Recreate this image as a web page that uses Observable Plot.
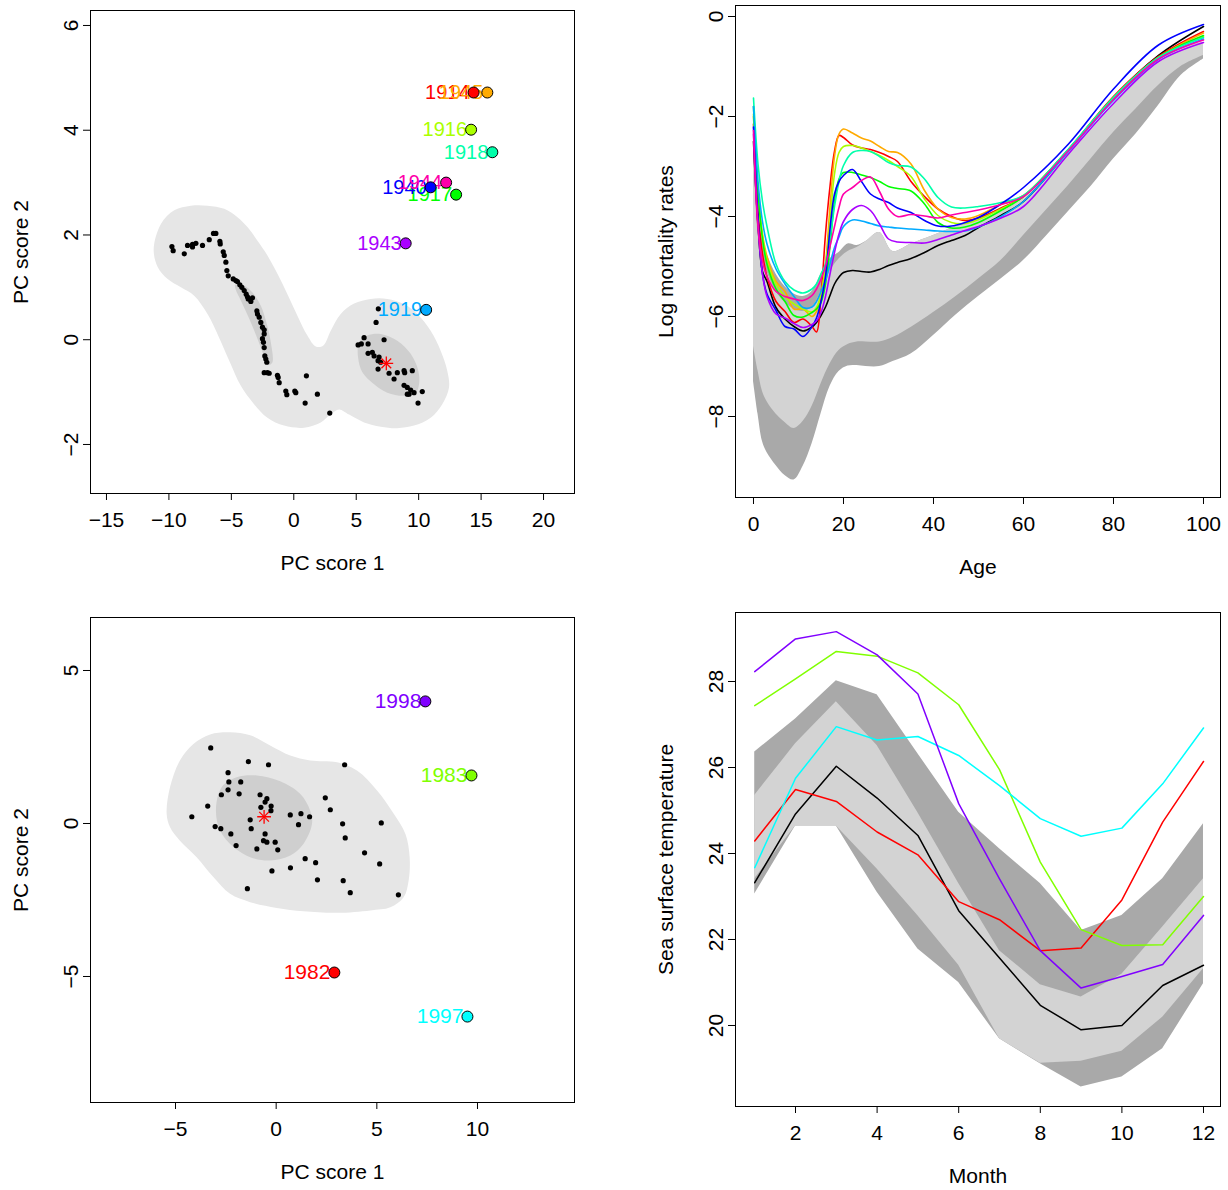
<!DOCTYPE html>
<html><head><meta charset="utf-8">
<script src="https://cdn.jsdelivr.net/npm/d3@7"></script>
<script src="https://cdn.jsdelivr.net/npm/@observablehq/plot@0.6"></script>
<style>
body{margin:0;background:#fff;}
#wrap{position:relative;width:1228px;height:1190px;overflow:hidden;}
#wrap svg{position:absolute;}
</style></head><body><div id="wrap"></div>
<script>
// ---------- Top-left: bivariate HDR boxplot of PC scores (mortality) ----------
const tlX = [-9.76,-9.66,-8.77,-8.51,-8.11,-8.11,-7.84,-7.31,-6.77,-6.43,-6.24,-5.92,-5.89,-5.65,-5.57,-5.44,-5.36,-5.25,-4.85,-4.64,-4.51,-4.32,-4.16,-3.97,-3.81,-3.71,-3.65,-3.31,-3.44,-2.96,-2.91,-2.77,-2.64,-2.51,-2.37,-2.37,-2.51,-2.43,-2.37,-2.32,-2.24,-2.16,-2.37,-2.11,-1.97,-1.31,-1.25,-1.17,-0.64,-0.56,0.08,0.16,1.01,1.89,0.91,2.88,6.77,6.59,5.63,5.41,5.15,5.95,7.23,5.95,6.29,6.43,6.83,6.75,6.96,6.75,7.63,8.03,8.29,8.83,8.88,9.49,8.83,9.09,9.36,9.23,9.09,9.63,10.29,9.95];
const tlY = [1.78,1.70,1.64,1.80,1.77,1.82,1.84,1.80,1.91,2.03,2.03,1.88,1.83,1.68,1.61,1.48,1.32,1.22,1.16,1.13,1.11,1.05,1.00,0.94,0.87,0.82,0.78,0.80,0.73,0.55,0.49,0.43,0.33,0.24,0.19,0.11,0.02,-0.05,-0.15,-0.31,-0.37,-0.43,-0.63,-0.63,-0.64,-0.68,-0.72,-0.82,-0.98,-1.05,-0.98,-1.01,-0.69,-1.04,-1.21,-1.40,0.59,0.33,0.04,-0.08,-0.10,-0.08,0.00,-0.26,-0.24,-0.31,-0.33,-0.40,-0.43,-0.56,-0.64,-0.75,-0.63,-0.59,-0.63,-0.59,-0.87,-0.91,-0.96,-1.04,-1.04,-1.01,-0.99,-1.21];
const tlMedian = [7.41, -0.45];
const tlOutYears = [1914,1945,1916,1917,1918,1919,1940,1943,1944];
const tlOutX = [14.4,15.5,14.2,13.0,15.9,10.6,10.96,8.96,12.2];
const tlOutY = [4.72,4.72,4.01,2.77,3.58,0.57,2.91,1.84,3.0];
const tlOutColors = ["#FF0000","#FFAA00","#AAFF00","#00FF00","#00FFAA","#00AAFF","#0000FF","#AA00FF","#FF00AA"];
const tlOuterX = [-11.22,-10.64,-9.57,-8.24,-6.91,-5.57,-4.51,-3.71,-2.91,-2.11,-1.31,-0.51,0.29,1.09,1.76,2.37,2.96,3.76,4.83,6.16,7.49,8.83,9.89,10.96,11.76,12.29,12.43,11.89,10.96,9.63,8.29,6.96,5.63,4.43,3.63,2.96,2.16,0.82,-0.78,-2.11,-3.18,-4.24,-5.17,-5.98,-6.91,-7.98,-9.04,-10.1,-10.9];
const tlOuterY = [1.73,2.21,2.47,2.56,2.56,2.50,2.34,2.15,1.89,1.61,1.26,0.87,0.46,0.08,-0.13,-0.11,0.17,0.49,0.69,0.78,0.78,0.68,0.49,0.17,-0.21,-0.59,-0.91,-1.23,-1.49,-1.64,-1.69,-1.66,-1.58,-1.43,-1.33,-1.42,-1.58,-1.68,-1.64,-1.49,-1.23,-0.88,-0.40,0.04,0.49,0.84,1.00,1.16,1.39];
const tlInnerAX = [-4.69,-3.97,-3.31,-2.64,-2.16,-1.84,-1.71,-1.97,-2.37,-2.91,-3.57,-4.24,-4.64];
const tlInnerAY = [1.05,1.03,0.90,0.65,0.30,-0.05,-0.43,-0.48,-0.31,0.02,0.40,0.75,0.95];
const tlInnerBX = [5.23,5.89,6.96,8.29,9.36,9.97,10.03,9.76,8.83,7.49,6.43,5.49,5.15];
const tlInnerBY = [-0.05,0.08,0.11,-0.02,-0.27,-0.59,-0.85,-1.01,-1.07,-1.01,-0.85,-0.62,-0.34];

// ---------- Top-right: functional HDR boxplot (log mortality by age) ----------
const bandAges = [0,1,2,3,5,7,9,11,13,15,17,19,21,23,25,28,31,35,40,45,50,55,60,65,70,75,80,85,90,95,100];
const trDarkLow  = [-7.3,-7.95,-8.5,-8.72,-8.98,-9.18,-9.27,-9.0,-8.55,-7.95,-7.4,-7.1,-6.99,-6.98,-7.0,-7.0,-6.9,-6.75,-6.38,-5.97,-5.6,-5.25,-4.88,-4.4,-3.9,-3.4,-2.85,-2.35,-1.78,-1.18,-0.85];
const trLightLow = [-6.6,-7.08,-7.5,-7.7,-7.95,-8.12,-8.24,-8.1,-7.8,-7.35,-6.95,-6.68,-6.56,-6.51,-6.51,-6.51,-6.42,-6.22,-5.92,-5.6,-5.25,-4.88,-4.38,-3.88,-3.38,-2.85,-2.32,-1.85,-1.38,-1.0,-0.78];
const trDarkHigh = [-1.65,-3.9,-4.45,-4.75,-5.15,-5.4,-5.55,-5.6,-5.5,-5.15,-4.85,-4.72,-4.55,-4.58,-4.5,-4.32,-4.7,-4.55,-4.38,-4.2,-4.05,-3.92,-3.62,-3.2,-2.75,-2.25,-1.78,-1.32,-0.92,-0.65,-0.52];
const trLightHigh= [-2.0,-4.3,-4.85,-5.1,-5.5,-5.72,-5.85,-5.9,-5.82,-5.5,-5.1,-4.85,-4.7,-4.62,-4.5,-4.32,-4.7,-4.55,-4.38,-4.2,-4.05,-3.92,-3.62,-3.2,-2.75,-2.25,-1.78,-1.32,-0.92,-0.65,-0.52];
const curveAges = [0,1,2,3,5,7,9,11,13,14,15,16,17,18,19,20,22,24,26,28,30,32,35,38,41,44,47,50,55,60,70,80,90,100];
const trMedian = [-2.5,-4.15,-5.1,-5.3,-5.82,-6.05,-6.2,-6.29,-6.21,-6.12,-5.98,-5.81,-5.58,-5.35,-5.21,-5.12,-5.08,-5.1,-5.11,-5.06,-4.98,-4.92,-4.84,-4.72,-4.58,-4.48,-4.38,-4.22,-3.98,-3.7,-2.68,-1.62,-0.78,-0.2];
const y1914 = [-2.15,-3.9,-4.75,-5.2,-5.7,-5.9,-6.12,-6.05,-6.2,-6.31,-5.6,-4.35,-3.4,-2.7,-2.38,-2.42,-2.57,-2.63,-2.66,-2.72,-2.8,-2.9,-3.3,-3.6,-3.85,-4.0,-4.08,-4.03,-3.83,-3.6,-2.66,-1.6,-0.8,-0.3];
const y1945 = [-2.0,-3.5,-4.35,-4.8,-5.3,-5.5,-5.85,-5.85,-6.0,-5.9,-5.55,-4.95,-3.8,-2.8,-2.35,-2.25,-2.33,-2.43,-2.49,-2.6,-2.7,-2.72,-2.95,-3.48,-3.85,-4.02,-4.05,-3.98,-3.76,-3.58,-2.66,-1.62,-0.82,-0.33];
const y1916 = [-1.95,-3.6,-4.4,-4.9,-5.35,-5.6,-5.75,-5.85,-5.91,-5.82,-5.55,-5.0,-4.1,-3.15,-2.72,-2.6,-2.58,-2.63,-2.7,-2.78,-2.88,-3.0,-3.2,-3.65,-3.98,-4.12,-4.14,-4.06,-3.85,-3.6,-2.66,-1.63,-0.83,-0.4];
const y1917 = [-1.8,-3.5,-4.45,-4.95,-5.45,-5.7,-5.98,-6.01,-5.92,-5.85,-5.72,-5.35,-4.6,-3.7,-3.25,-3.12,-3.12,-3.17,-3.22,-3.3,-3.4,-3.44,-3.49,-3.75,-4.12,-4.23,-4.21,-4.12,-3.88,-3.6,-2.66,-1.62,-0.82,-0.38];
const y1918 = [-1.63,-2.95,-3.7,-4.2,-4.95,-5.3,-5.47,-5.53,-5.45,-5.35,-5.15,-4.95,-4.45,-3.8,-3.3,-2.98,-2.72,-2.68,-2.7,-2.8,-2.92,-2.98,-3.01,-3.25,-3.62,-3.81,-3.83,-3.8,-3.72,-3.58,-2.65,-1.62,-0.82,-0.42];
const y1919 = [-1.8,-3.3,-4.1,-4.55,-5.05,-5.35,-5.6,-5.82,-5.81,-5.7,-5.5,-5.28,-4.95,-4.62,-4.41,-4.2,-4.07,-4.09,-4.14,-4.19,-4.21,-4.23,-4.25,-4.27,-4.29,-4.3,-4.29,-4.21,-4.0,-3.7,-2.7,-1.68,-0.86,-0.45];
const y1940 = [-2.21,-4.0,-5.15,-5.55,-5.88,-6.2,-6.25,-6.4,-6.2,-6.03,-5.7,-5.2,-4.25,-3.55,-3.3,-3.18,-3.06,-3.3,-3.55,-3.65,-3.72,-3.83,-3.92,-4.08,-4.19,-4.19,-4.12,-4.02,-3.75,-3.42,-2.55,-1.45,-0.57,-0.16];
const y1943 = [-2.35,-4.2,-5.15,-5.6,-5.95,-6.03,-6.14,-6.22,-6.16,-6.09,-5.92,-5.6,-5.15,-4.72,-4.35,-4.1,-3.86,-3.78,-3.88,-4.15,-4.45,-4.51,-4.52,-4.53,-4.46,-4.37,-4.28,-4.2,-4.03,-3.8,-2.75,-1.74,-0.9,-0.52];
const y1944 = [-2.28,-4.2,-4.9,-5.2,-5.5,-5.6,-5.65,-5.68,-5.58,-5.45,-5.25,-5.0,-4.6,-4.2,-3.82,-3.55,-3.42,-3.28,-3.21,-3.5,-3.85,-4.0,-3.96,-3.99,-4.03,-3.97,-3.92,-3.87,-3.76,-3.6,-2.68,-1.66,-0.85,-0.47];
const trSeries = [y1914,y1945,y1916,y1917,y1918,y1919,y1940,y1943,y1944];

// ---------- Bottom-left: bivariate HDR boxplot (sea surface temperature) ----------
const blX = [-3.25,-1.38,-0.38,3.40,-2.39,-2.35,-1.76,-2.39,-2.72,-1.84,-0.80,-0.46,-0.55,2.44,-3.40,-0.76,-0.25,-0.26,2.69,-4.19,-1.29,0.70,1.23,1.66,1.11,3.30,5.22,-3.03,-2.75,-1.24,-2.25,-0.55,3.43,-0.63,-0.46,-0.05,-1.99,-0.96,0.08,4.39,1.44,1.96,5.14,-0.21,0.71,2.05,3.33,-1.43,3.68,6.07];
const blY = [2.47,2.02,1.92,1.92,1.66,1.36,1.36,1.10,0.94,0.97,0.94,0.81,0.70,0.84,0.57,0.53,0.57,0.42,0.45,0.22,0.12,0.28,0.32,0.22,-0.04,-0.01,0.02,-0.10,-0.17,-0.17,-0.34,-0.34,-0.47,-0.56,-0.61,-0.61,-0.72,-0.83,-0.86,-0.96,-1.15,-1.28,-1.32,-1.55,-1.45,-1.84,-1.87,-2.13,-2.26,-2.33];
const blMedian = [-0.60, 0.22];
const blOutYears = [1982,1983,1997,1998];
const blOutX = [2.89,9.70,9.50,7.41];
const blOutY = [-4.87,1.57,-6.31,3.99];
const blOutColors = ["#FF0000","#80FF00","#00FFFF","#8000FF"];
const blOuterX = [-5.44,-5.27,-4.78,-4.11,-3.28,-2.29,-1.29,-0.30,0.70,1.69,3.02,4.01,5.01,5.84,6.42,6.63,6.58,6.33,5.67,4.68,3.02,1.36,0.03,-1.29,-2.29,-3.12,-3.95,-4.78,-5.27];
const blOuterY = [0.32,1.19,2.06,2.60,2.91,2.98,2.88,2.55,2.22,2.06,2.00,1.73,1.08,0.32,-0.34,-1.10,-1.86,-2.41,-2.74,-2.84,-2.92,-2.87,-2.76,-2.57,-2.30,-1.75,-1.10,-0.56,-0.12];
const blInnerX = [-2.99,-2.70,-1.96,-0.96,0.20,1.19,1.69,1.78,1.36,0.70,-0.30,-1.29,-2.12,-2.79];
const blInnerY = [0.48,1.19,1.51,1.57,1.38,0.97,0.42,-0.01,-0.66,-1.05,-1.21,-1.10,-0.77,-0.23];

// ---------- Bottom-right: functional HDR boxplot (sea surface temperature by month) ----------
const months = [1,2,3,4,5,6,7,8,9,10,11,12];
const brDarkLow   = [23.06,24.64,24.64,23.10,21.78,21.0,19.69,19.11,18.57,18.80,19.46,20.97];
const brDarkHigh  = [26.36,27.13,28.02,27.69,26.32,24.96,24.11,23.30,22.21,22.56,23.41,24.69];
const brLightLow  = [23.41,24.64,24.64,23.64,22.55,21.4,19.69,19.12,19.17,19.40,20.19,21.32];
const brLightHigh = [25.35,26.55,27.53,26.51,24.95,23.3,21.74,20.95,20.66,21.19,22.29,23.41];
const brMedian = [23.32,24.92,26.03,25.29,24.42,22.67,21.57,20.47,19.90,20.0,20.93,21.40];
const sst1982 = [24.29,25.49,25.21,24.50,23.97,22.88,22.46,21.74,21.80,22.92,24.73,26.14];
const sst1983 = [27.44,28.06,28.70,28.59,28.2,27.46,25.95,23.80,22.23,21.86,21.88,23.0];
const sst1997 = [23.67,25.75,26.95,26.64,26.72,26.28,25.58,24.81,24.40,24.59,25.62,26.92];
const sst1998 = [28.23,28.99,29.16,28.62,27.71,25.16,23.41,21.74,20.87,21.14,21.42,22.56];
const brSeries = [sst1982,sst1983,sst1997,sst1998];

// ---------- drawing ----------
const FONT = "'Liberation Sans', Arial, Helvetica, sans-serif";
const OUTER = "#e6e6e6", INNER = "#cfcfcf", DARK = "#a9a9a9", LIGHT = "#d3d3d3";
const fmt = d => (d < 0 ? "\u2212" + Math.abs(d) : String(d));

function decor(xTicks, yTicks, xLabel, yLabel) {
  return [
    Plot.axisX(xTicks, {anchor: "bottom", tickSize: 7, tickPadding: 12, label: null, fontSize: 21, tickFormat: fmt}),
    Plot.axisY(yTicks, {anchor: "left", tickSize: 7, tickPadding: 6, tickRotate: -90, label: null, fontSize: 21, tickFormat: fmt}),
    Plot.frame({stroke: "black", strokeWidth: 1}),
    Plot.text([xLabel], {frameAnchor: "bottom", dy: 70, text: d => d, fontSize: 21, fill: "black", textAnchor: "middle", lineAnchor: "middle"}),
    Plot.text([yLabel], {frameAnchor: "left", dx: -69, rotate: -90, text: d => d, fontSize: 21, fill: "black", textAnchor: "middle", lineAnchor: "middle"})
  ];
}
function region(xs, ys, color) {
  return Plot.line(d3.range(xs.length), {x: i => xs[i], y: i => ys[i], fill: color, stroke: "none", curve: "catmull-rom-closed"});
}
function place(svg, left, top) {
  svg.style.left = left + "px";
  svg.style.top = top + "px";
  document.getElementById("wrap").appendChild(svg);
}
const baseStyle = {fontFamily: FONT, fontSize: "21px", background: "transparent", overflow: "visible", color: "black"};

// Top-left
const tlIdx = d3.range(tlX.length), tlO = d3.range(tlOutYears.length);
place(Plot.plot({
  width: 614, height: 595, marginLeft: 90, marginRight: 40, marginTop: 10, marginBottom: 102,
  style: baseStyle,
  x: {domain: [-16.28, 22.48]}, y: {domain: [-2.936, 6.286]}, color: {type: "identity"},
  marks: [
    region(tlOuterX, tlOuterY, OUTER),
    region(tlInnerAX, tlInnerAY, INNER),
    region(tlInnerBX, tlInnerBY, INNER),
    Plot.dot(tlIdx, {x: i => tlX[i], y: i => tlY[i], r: 2.6, fill: "black", stroke: "none"}),
    Plot.dot([tlMedian], {symbol: "plus", r: 4.5, stroke: "red", strokeWidth: 1.3}),
    Plot.dot([tlMedian], {symbol: "times", r: 4.5, stroke: "red", strokeWidth: 1.3}),
    Plot.text(tlO, {x: i => tlOutX[i], y: i => tlOutY[i], text: i => String(tlOutYears[i]), fill: i => tlOutColors[i], textAnchor: "end", dx: -4, fontSize: 20}),
    Plot.dot(tlO, {x: i => tlOutX[i], y: i => tlOutY[i], r: 5.5, fill: i => tlOutColors[i], stroke: "black", strokeWidth: 1}),
    ...decor([-15,-10,-5,0,5,10,15,20], [-2,0,2,4,6], "PC score 1", "PC score 2")
  ]
}), 0, 0);

// Top-right
const bIdx = d3.range(bandAges.length), cIdx = d3.range(curveAges.length);
place(Plot.plot({
  width: 614, height: 595, marginLeft: 121, marginRight: 8, marginTop: 5, marginBottom: 98,
  style: baseStyle,
  x: {domain: [-4, 103.78]}, y: {domain: [-9.62, 0.22]},
  marks: [
    Plot.areaY(bIdx, {x: i => bandAges[i], y1: i => trDarkLow[i], y2: i => trDarkHigh[i], fill: DARK, curve: "catmull-rom"}),
    Plot.areaY(bIdx, {x: i => bandAges[i], y1: i => trLightLow[i], y2: i => trLightHigh[i], fill: LIGHT, curve: "catmull-rom"}),
    Plot.line(cIdx, {x: i => curveAges[i], y: i => trMedian[i], stroke: "black", strokeWidth: 1.6, curve: "catmull-rom"}),
    ...trSeries.map((s, k) => Plot.line(cIdx, {x: i => curveAges[i], y: i => s[i], stroke: tlOutColors[k], strokeWidth: 1.6, curve: "catmull-rom"})),
    ...decor([0,20,40,60,80,100], [-8,-6,-4,-2,0], "Age", "Log mortality rates")
  ]
}), 614, 0);

// Bottom-left
const blIdx = d3.range(blX.length), blO = d3.range(blOutYears.length);
place(Plot.plot({
  width: 614, height: 595, marginLeft: 90, marginRight: 40, marginTop: 22, marginBottom: 88,
  style: baseStyle,
  x: {domain: [-9.222, 14.818]}, y: {domain: [-9.118, 6.732]}, color: {type: "identity"},
  marks: [
    region(blOuterX, blOuterY, OUTER),
    region(blInnerX, blInnerY, INNER),
    Plot.dot(blIdx, {x: i => blX[i], y: i => blY[i], r: 2.6, fill: "black", stroke: "none"}),
    Plot.dot([blMedian], {symbol: "plus", r: 4.5, stroke: "red", strokeWidth: 1.3}),
    Plot.dot([blMedian], {symbol: "times", r: 4.5, stroke: "red", strokeWidth: 1.3}),
    Plot.text(blO, {x: i => blOutX[i], y: i => blOutY[i], text: i => String(blOutYears[i]), fill: i => blOutColors[i], textAnchor: "end", dx: -4, fontSize: 21}),
    Plot.dot(blO, {x: i => blOutX[i], y: i => blOutY[i], r: 5.5, fill: i => blOutColors[i], stroke: "black", strokeWidth: 1}),
    ...decor([-5,0,5,10], [-5,0,5], "PC score 1", "PC score 2")
  ]
}), 0, 595);

// Bottom-right
const mIdx = d3.range(months.length);
place(Plot.plot({
  width: 614, height: 595, marginLeft: 121, marginRight: 8, marginTop: 17, marginBottom: 84,
  style: baseStyle,
  x: {domain: [0.529, 12.417]}, y: {domain: [18.116, 29.605]},
  marks: [
    Plot.areaY(mIdx, {x: i => months[i], y1: i => brDarkLow[i], y2: i => brDarkHigh[i], fill: DARK}),
    Plot.areaY(mIdx, {x: i => months[i], y1: i => brLightLow[i], y2: i => brLightHigh[i], fill: LIGHT}),
    Plot.line(mIdx, {x: i => months[i], y: i => brMedian[i], stroke: "black", strokeWidth: 1.5}),
    ...brSeries.map((s, k) => Plot.line(mIdx, {x: i => months[i], y: i => s[i], stroke: blOutColors[k], strokeWidth: 1.5})),
    ...decor([2,4,6,8,10,12], [20,22,24,26,28], "Month", "Sea surface temperature")
  ]
}), 614, 595);
</script></body></html>
